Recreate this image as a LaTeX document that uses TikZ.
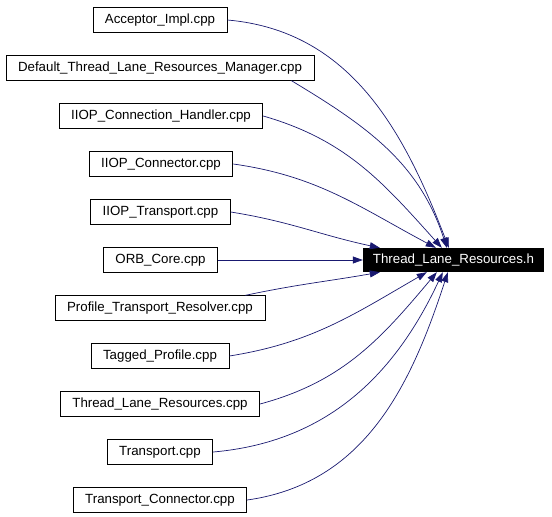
\documentclass[tikz,border=0pt]{standalone}
\usepackage{fontspec}
\setmainfont{Liberation Sans}
\usetikzlibrary{arrows.meta}
\definecolor{edgeblue}{RGB}{25,25,112}

\begin{document}
\begin{tikzpicture}[x=1pt,y=1pt,font=\fontsize{13.3}{16}\selectfont]
	\tikzstyle{file} = [rectangle,draw,line width=0.8pt,minimum height=24.5pt,inner xsep=12pt,inner ysep=0pt]
	\tikzstyle{head} = [rectangle,fill=black,text=white,minimum height=24pt,minimum width=181pt,inner sep=0pt]
	\tikzstyle{dep} = [-{Triangle[length=10pt,width=7pt]},color=edgeblue,line width=0.7pt]
	
	\useasboundingbox (0,0) rectangle (552,-517);
	
	\node[file](s-1) at (160,-20){Acceptor\_Impl.cpp};
	\node[file](s-2) at (160,-68){Default\_Thread\_Lane\_Resources\_Manager.cpp};
	\node[file](s-3) at (161,-116){IIOP\_Connection\_Handler.cpp};
	\node[file](s-4) at (161,-164){IIOP\_Connector.cpp};
	\node[file](s-5) at (160.5,-212){IIOP\_Transport.cpp};
	\node[file](s-6) at (160.5,-260){ORB\_Core.cpp};
	\node[file](s-7) at (160,-308){Profile\_Transport\_Resolver.cpp};
	\node[file](s-8) at (160,-356){Tagged\_Profile.cpp};
	\node[file](s-9) at (160,-404){Thread\_Lane\_Resources.cpp};
	\node[file](s-10) at (160,-452){Transport.cpp};
	\node[file](s-11) at (160,-500){Transport\_Connector.cpp};
	
	\node[head](h) at (453.5,-260){Thread\_Lane\_Resources.h};
	
	\path[dep] (s-1.east) edge[out=-5,in=111] ([xshift=86pt]h.north west)
	([xshift=-23pt]s-2.south east) edge[out=-31,in=108] ([xshift=84pt]h.north west)
	(s-3.east) edge[out=-16,in=132] ([xshift=79pt]h.north west)
	(s-4.east) edge[out=-8,in=152] ([xshift=73pt]h.north west)
	(s-5.east) edge[out=-9,in=168] ([xshift=17pt]h.north west)
	(s-6) edge (h);
	
	\path[dep] ([xshift=-20pt]s-7.north east) edge[out=12,in=190] ([xshift=17pt]h.south west)
	(s-8.east) edge[out=9,in=210] ([xshift=64pt]h.south west)
	(s-9.east) edge[out=15,in=230] ([xshift=74pt]h.south west)
	(s-10.east) edge[out=5,in=245] ([xshift=80pt]h.south west)
	(s-11.east) edge[out=8,in=252] ([xshift=85pt]h.south west);
\end{tikzpicture}
\end{document}
